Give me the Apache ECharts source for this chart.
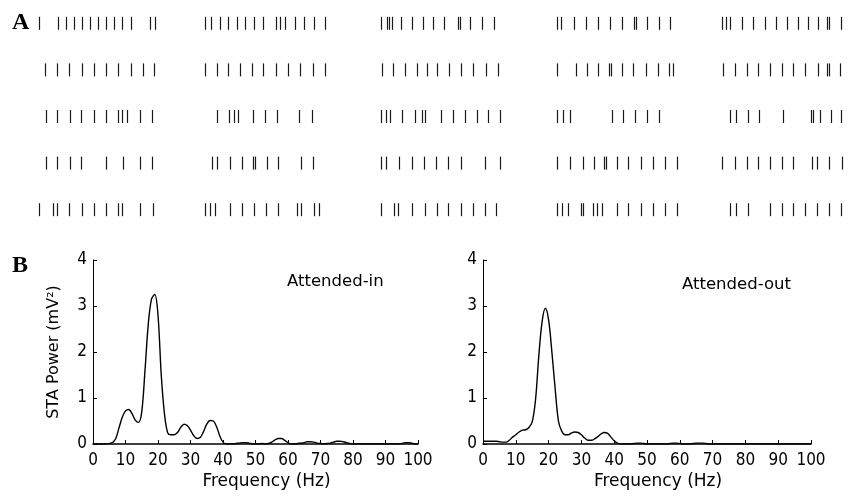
<!DOCTYPE html>
<html>
<head>
<meta charset="utf-8">
<script src="https://cdn.jsdelivr.net/npm/echarts@6/dist/echarts.min.js"></script>
<style>
html,body{margin:0;padding:0;background:#fff;}
#chart{width:851px;height:500px;}
</style>
</head>
<body>
<div id="chart"></div>
<script>
// ---------- Panel A: spike rasters (spike times in ms within a 500 ms window) ----------
// Each row = one trial line; each inner array = one of five trial columns
const rasterRow1 = [
  [4, 80, 112, 144, 176, 208, 240, 272, 304, 336, 372, 448, 468],
  [4, 28, 64, 96, 132, 164, 200, 236, 288, 304, 324, 364, 400, 440, 484],
  [4, 28, 36, 48, 84, 128, 172, 212, 256, 312, 320, 360, 408, 456],
  [8, 24, 76, 124, 172, 220, 268, 316, 324, 368, 416, 460],
  [8, 24, 40, 88, 132, 180, 224, 268, 312, 352, 392, 428, 436, 484]
];
const rasterRow2 = [
  [28, 76, 124, 176, 224, 272, 320, 372, 420, 464],
  [4, 52, 96, 144, 192, 236, 288, 336, 384, 436, 484],
  [8, 52, 100, 148, 188, 228, 276, 324, 372, 424, 472],
  [8, 84, 128, 172, 216, 224, 268, 312, 364, 412, 456, 472],
  [12, 60, 108, 152, 200, 248, 292, 340, 392, 428, 436, 480]
];
const rasterRow3 = [
  [32, 76, 128, 172, 224, 272, 320, 336, 356, 408, 456],
  [52, 100, 120, 136, 196, 244, 292, 380, 432],
  [4, 24, 40, 88, 140, 168, 180, 244, 292, 340, 388, 432, 480],
  [8, 32, 60, 228, 272, 320, 368, 416],
  [40, 64, 112, 156, 252, 364, 372, 400, 444, 484]
];
const rasterRow4 = [
  [32, 76, 128, 172, 272, 340, 408, 456],
  [32, 52, 104, 152, 196, 204, 252, 296, 388, 436],
  [4, 24, 76, 128, 176, 224, 272, 324, 420, 480],
  [8, 60, 112, 156, 196, 204, 248, 292, 344, 392, 440, 488],
  [8, 60, 108, 152, 200, 248, 292, 368, 388, 436, 488]
];
const rasterRow5 = [
  [4, 60, 76, 124, 176, 224, 272, 320, 336, 408, 460],
  [4, 24, 44, 104, 152, 200, 248, 296, 372, 388, 440, 460],
  [4, 56, 72, 128, 180, 228, 272, 324, 372, 420, 464],
  [8, 28, 52, 104, 112, 152, 168, 188, 248, 292, 344, 392, 440, 488],
  [40, 64, 112, 200, 248, 292, 340, 388, 436, 484]
];
const rasterRows = [rasterRow1, rasterRow2, rasterRow3, rasterRow4, rasterRow5];

// ---------- Panel B: STA power spectra, 0..100 Hz in 1 Hz steps ----------
const frequencies = Array.from({length: 101}, (_, i) => i);
const attendedIn = [
  0.00, 0.00, 0.00, 0.00, 0.00, 0.01, 0.03, 0.12, 0.35, 0.58,
  0.72, 0.75, 0.66, 0.52, 0.47, 0.70, 1.60, 2.60, 3.15, 3.25,
  2.80, 1.50, 0.65, 0.24, 0.20, 0.20, 0.25, 0.36, 0.43, 0.40,
  0.30, 0.18, 0.12, 0.14, 0.27, 0.43, 0.51, 0.50, 0.38, 0.18,
  0.04, 0.00, 0.00, 0.00, 0.01, 0.02, 0.03, 0.03, 0.02, 0.00,
  0.00, 0.00, 0.01, 0.00, 0.01, 0.04, 0.09, 0.12, 0.12, 0.08,
  0.03, 0.00, 0.00, 0.01, 0.02, 0.03, 0.05, 0.05, 0.04, 0.02,
  0.01, 0.00, 0.01, 0.02, 0.04, 0.06, 0.06, 0.05, 0.03, 0.01,
  0.00, 0.00, 0.00, 0.00, 0.00, 0.00, 0.00, 0.00, 0.00, 0.00,
  0.00, 0.00, 0.00, 0.00, 0.00, 0.01, 0.03, 0.03, 0.02, 0.00,
  0.00
];
const attendedOut = [
  0.06, 0.06, 0.06, 0.06, 0.06, 0.05, 0.04, 0.04, 0.08, 0.15,
  0.20, 0.26, 0.30, 0.31, 0.36, 0.48, 0.95, 1.90, 2.65, 2.95,
  2.70, 2.00, 1.20, 0.50, 0.28, 0.20, 0.20, 0.24, 0.26, 0.25,
  0.20, 0.13, 0.08, 0.08, 0.11, 0.16, 0.22, 0.25, 0.23, 0.15,
  0.07, 0.02, 0.00, 0.00, 0.00, 0.00, 0.01, 0.02, 0.02, 0.01,
  0.00, 0.00, 0.00, 0.00, 0.00, 0.00, 0.00, 0.01, 0.02, 0.02,
  0.01, 0.00, 0.00, 0.00, 0.01, 0.02, 0.02, 0.02, 0.01, 0.00,
  0.00, 0.00, 0.00, 0.00, 0.00, 0.00, 0.00, 0.00, 0.00, 0.00,
  0.00, 0.00, 0.00, 0.00, 0.00, 0.00, 0.00, 0.00, 0.00, 0.00,
  0.00, 0.00, 0.00, 0.00, 0.00, 0.00, 0.00, 0.00, 0.00, 0.00,
  0.00
];
const freqTicks = [0, 10, 20, 30, 40, 50, 60, 70, 80, 90, 100];
const powerTicks = [0, 1, 2, 3, 4];
const panelTitles = ['Attended-in', 'Attended-out'];
const xAxisName = 'Frequency (Hz)';
const yAxisName = 'STA Power (mV\u00B2)';

// ---------- build ----------
const chart = echarts.init(document.getElementById('chart'), null, {renderer: 'canvas'});
const rasterLefts = [38, 204, 380, 555, 720];
const tickFont = "'Liberation Sans Narrow', 'DejaVu Sans Condensed', 'Liberation Sans', sans-serif";
const labelFont = "'DejaVu Sans', sans-serif";

const grid = [], xAxis = [], yAxis = [], series = [];

rasterLefts.forEach((left, c) => {
  grid.push({left: left, top: 0, width: 125, height: 233});
  xAxis.push({gridIndex: c, type: 'value', min: 0, max: 500, show: false});
  yAxis.push({gridIndex: c, type: 'value', min: 0.5, max: 5.5, inverse: true, show: false});
  const data = [];
  rasterRows.forEach((row, r) => row[c].forEach(t => data.push([t, r + 1])));
  series.push({
    type: 'custom', xAxisIndex: c, yAxisIndex: c, data: data, silent: true,
    renderItem: function (params, api) {
      const p = api.coord([api.value(0), api.value(1)]);
      const x = Math.round(p[0]) + 0.5;
      return {type: 'line', shape: {x1: x, y1: p[1] - 6.5, x2: x, y2: p[1] + 6.5},
              style: {stroke: '#1a1a1a', lineWidth: 1.2}};
    }
  });
});

const specGrids = [{left: 93, top: 260, width: 325, height: 184}, {left: 483, top: 260, width: 328, height: 184}];
const specData = [attendedIn, attendedOut];
specGrids.forEach((g, k) => {
  const gi = 5 + k;
  grid.push(g);
  xAxis.push({
    gridIndex: gi, type: 'value', min: freqTicks[0], max: freqTicks[freqTicks.length - 1], interval: 10,
    name: xAxisName, nameLocation: 'middle', nameGap: 29,
    nameTextStyle: {fontFamily: labelFont, fontSize: 17, color: '#000', padding: [0, 0, 0, 22]},
    axisLine: {show: true, lineStyle: {color: '#000', width: 1.5}},
    axisTick: {show: true, inside: true, length: 4, lineStyle: {color: '#000'}},
    axisLabel: {fontFamily: tickFont, fontSize: 17, color: '#000', margin: 8, showMaxLabel: true, showMinLabel: true},
    splitLine: {show: false}
  });
  yAxis.push({
    gridIndex: gi, type: 'value', min: powerTicks[0], max: powerTicks[powerTicks.length - 1], interval: 1,
    name: k === 0 ? yAxisName : '', nameLocation: 'middle', nameGap: 31,
    nameTextStyle: {fontFamily: labelFont, fontSize: 16, color: '#000'},
    axisLine: {show: true, lineStyle: {color: '#000', width: 1}},
    axisTick: {show: true, inside: true, length: 4, lineStyle: {color: '#000'}},
    axisLabel: {fontFamily: tickFont, fontSize: 17, color: '#000', margin: 6},
    splitLine: {show: false}
  });
  series.push({
    type: 'line', xAxisIndex: gi, yAxisIndex: gi, symbol: 'none', smooth: 0.35, silent: true,
    data: frequencies.map((f, i) => [f, specData[k][i]]),
    lineStyle: {color: '#000', width: 1.4}
  });
});

chart.setOption({
  animation: false,
  backgroundColor: '#fff',
  grid: grid, xAxis: xAxis, yAxis: yAxis, series: series,
  graphic: [
    {type: 'text', left: 12, top: 11, style: {text: 'A', font: "bold 24px 'Liberation Serif', serif", fill: '#000'}},
    {type: 'text', left: 12, top: 254, style: {text: 'B', font: "bold 24px 'Liberation Serif', serif", fill: '#000'}},
    {type: 'text', left: 287, top: 273, style: {text: panelTitles[0], font: "16.5px 'DejaVu Sans', sans-serif", fill: '#000'}},
    {type: 'text', left: 682, top: 276, style: {text: panelTitles[1], font: "16.5px 'DejaVu Sans', sans-serif", fill: '#000'}}
  ]
});
</script>
</body>
</html>
